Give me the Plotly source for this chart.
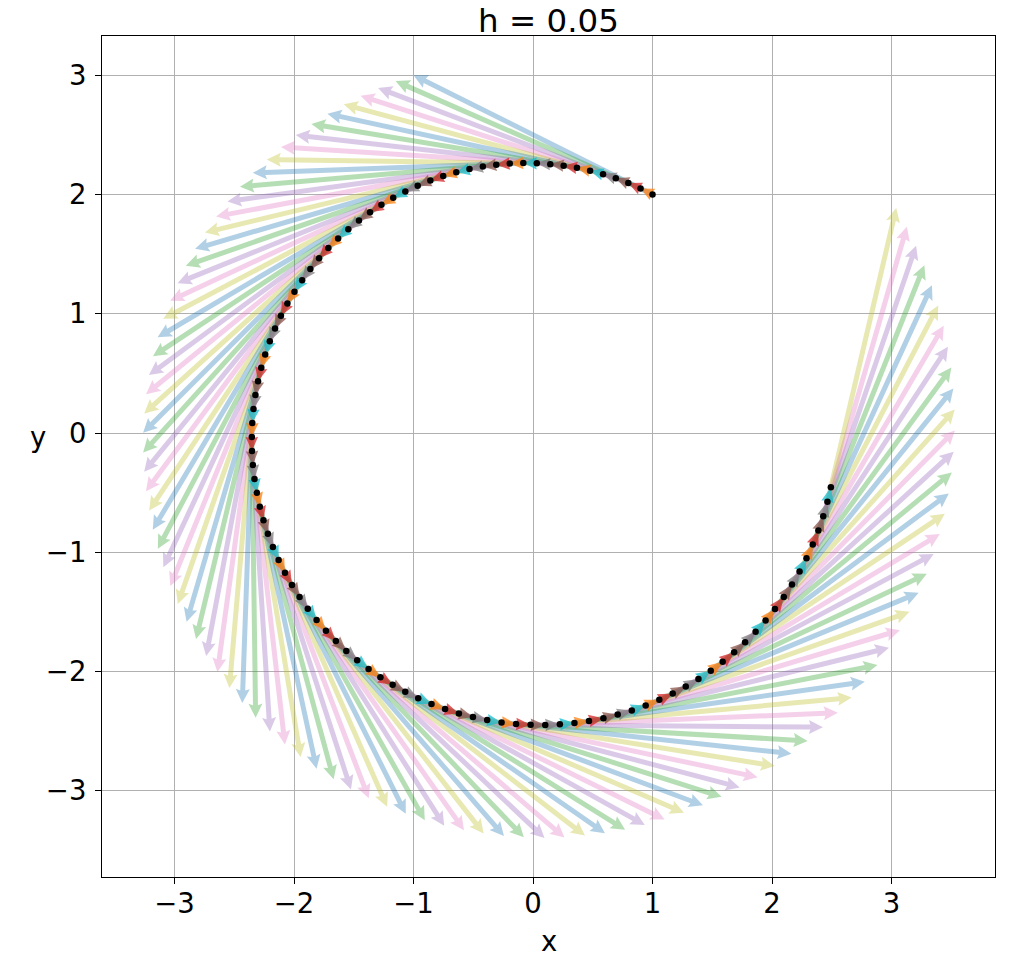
import math
import plotly.graph_objects as go

# ---------------- data ----------------
h = 0.05
title_text = "h = 0.05"

px_pts = [1.0, 0.9, 0.7975, 0.6928, 0.5860, 0.4775, 0.3676, 0.2565, 0.1444, 0.0317,
          -0.0813, -0.1945, -0.3074, -0.4199, -0.5315, -0.6422, -0.7515, -0.8592, -0.9650, -1.0686,
          -1.1699, -1.2685, -1.3641, -1.4566, -1.5457, -1.6311, -1.7127, -1.7902, -1.8634, -1.9322,
          -1.9962, -2.0555, -2.1097, -2.1589, -2.2027, -2.2412, -2.2741, -2.3014, -2.3231, -2.3390,
          -2.3491, -2.3533, -2.3517, -2.3442, -2.3308, -2.3115, -2.2865, -2.2556, -2.2190, -2.1768,
          -2.1290, -2.0758, -2.0173, -1.9536, -1.8848, -1.8112, -1.7328, -1.6500, -1.5627, -1.4714,
          -1.3761, -1.2772, -1.1748, -1.0693, -0.9608, -0.8496, -0.7360, -0.6203, -0.5028, -0.3837,
          -0.2634, -0.1421, -0.0201, 0.1022, 0.2246, 0.3467, 0.4682, 0.5889, 0.7084, 0.8265,
          0.9427, 1.0569, 1.1688, 1.2780, 1.3843, 1.4874, 1.5870, 1.6829, 1.7748, 1.8626,
          1.9459, 2.0245, 2.0983, 2.1670, 2.2305, 2.2885, 2.3410, 2.3877, 2.4286, 2.4636,
          2.4924]

py_pts = [2.0, 2.05, 2.095, 2.1349, 2.1695, 2.1988, 2.2227, 2.2411, 2.2539, 2.2611,
          2.2627, 2.2586, 2.2489, 2.2335, 2.2126, 2.1860, 2.1539, 2.1163, 2.0733, 2.0251,
          1.9717, 1.9132, 1.8497, 1.7815, 1.7087, 1.6314, 1.5499, 1.4642, 1.3747, 1.2815,
          1.1849, 1.0851, 0.9823, 0.8769, 0.7689, 0.6588, 0.5467, 0.4330, 0.3179, 0.2018,
          0.0848, -0.0326, -0.1503, -0.2679, -0.3851, -0.5016, -0.6172, -0.7315, -0.8443, -0.9552,
          -1.0641, -1.1705, -1.2743, -1.3752, -1.4729, -1.5671, -1.6577, -1.7443, -1.8268, -1.9050,
          -1.9785, -2.0473, -2.1112, -2.1699, -2.2234, -2.2714, -2.3139, -2.3507, -2.3817, -2.4069,
          -2.4261, -2.4392, -2.4463, -2.4473, -2.4422, -2.4310, -2.4137, -2.3903, -2.3608, -2.3254,
          -2.2841, -2.2369, -2.1841, -2.1256, -2.0617, -1.9925, -1.9182, -1.8388, -1.7547, -1.6659,
          -1.5728, -1.4755, -1.3743, -1.2694, -1.1610, -1.0495, -0.9351, -0.8180, -0.6986, -0.5772,
          -0.4540]

tick_vals = [-3, -2, -1, 0, 1, 2, 3]

tab10 = ["#1f77b4", "#ff7f0e", "#2ca02c", "#d62728", "#9467bd",
         "#8c564b", "#e377c2", "#7f7f7f", "#bcbd22", "#17becf"]

# ---------------- layout geometry ----------------
W, H = 1009, 962
M = dict(l=102, r=14, t=36, b=85)
X_RANGE = [-3.607, 3.866]
Y_RANGE = [-3.722, 3.328]
sx = (W - M["l"] - M["r"]) / (X_RANGE[1] - X_RANGE[0])   # px per data unit
sy = (H - M["t"] - M["b"]) / (Y_RANGE[1] - Y_RANGE[0])
plot_h = H - M["t"] - M["b"]


def rgba(hexc, a):
    hexc = hexc.lstrip("#")
    r, g, b = int(hexc[0:2], 16), int(hexc[2:4], 16), int(hexc[4:6], 16)
    return f"rgba({r},{g},{b},{a})"


def arrow_polygon(x0, y0, u, v, w, hw, hl, hal):
    """quiver-like arrow outline (sizes in px) converted to data coords"""
    dx, dy = u * sx, v * sy
    L = math.hypot(dx, dy)
    if L < hl:
        s = L / hl
        w, hw, hl, hal = w * s, hw * s, hl * s, hal * s
    loc = [(0, -w / 2), (L - hal, -w / 2), (L - hl, -hw / 2), (L, 0),
           (L - hl, hw / 2), (L - hal, w / 2), (0, w / 2), (0, -w / 2)]
    ex, ey = dx / L, dy / L
    nx, ny = -ey, ex
    xs = [x0 + (a * ex + b * nx) / sx for a, b in loc]
    ys = [y0 + (a * ey + b * ny) / sy for a, b in loc]
    return xs, ys


fig = go.Figure()

n_steps = len(px_pts) - 1
for k in range(n_steps):
    x0, y0 = px_pts[k], py_pts[k]
    # slope vector f(x_k) = (x_{k+1} - x_k) / h
    u = (px_pts[k + 1] - x0) / h
    v = (py_pts[k + 1] - y0) / h
    # long arrow: full slope vector
    xs, ys = arrow_polygon(x0, y0, u, v, w=5.0, hw=14.0, hl=14.0, hal=12.5)
    fig.add_trace(go.Scatter(x=xs, y=ys, mode="lines", fill="toself",
                             fillcolor=rgba(tab10[(2 * k) % 10], 0.35),
                             line=dict(width=0), hoverinfo="skip", showlegend=False))
    # short arrow: step h * slope
    L_px = math.hypot(h * u * sx, h * v * sy)
    xs, ys = arrow_polygon(x0, y0, h * u, h * v, w=3.5, hw=12.5, hl=L_px, hal=L_px * 0.92)
    fig.add_trace(go.Scatter(x=xs, y=ys, mode="lines", fill="toself",
                             fillcolor=rgba(tab10[(2 * k + 1) % 10], 0.75),
                             line=dict(width=0), hoverinfo="skip", showlegend=False))

fig.add_trace(go.Scatter(x=px_pts, y=py_pts, mode="markers",
                         marker=dict(color="black", size=6.5, line=dict(width=0)),
                         hoverinfo="skip", showlegend=False))

FONT = "DejaVu Sans, Liberation Sans, sans-serif"
axis_common = dict(
    tickmode="array", tickvals=tick_vals,
    showgrid=True, gridcolor="#b0b0b0", gridwidth=1.1,
    zeroline=False, showline=True, linecolor="black", linewidth=1.2, mirror=True,
    ticks="outside", ticklen=6, tickwidth=1.2, tickcolor="black",
    tickfont=dict(family=FONT, size=27.5, color="black"),
)

fig.update_layout(
    width=W, height=H, margin=M,
    paper_bgcolor="white", plot_bgcolor="white",
    xaxis=dict(range=X_RANGE, ticklabelstandoff=-4, **axis_common),
    yaxis=dict(range=Y_RANGE, ticklabelstandoff=3, **axis_common),
    annotations=[
        dict(text=title_text, x=0.5, y=(plot_h + M["t"]) / plot_h, xref="paper", yref="paper",
             showarrow=False, xanchor="center", yanchor="top",
             font=dict(family=FONT, size=32.5, color="black")),
        dict(text="x", x=0.5, y=(877 - 941) / 841, xref="paper", yref="paper",
             showarrow=False, xanchor="center", yanchor="middle",
             font=dict(family=FONT, size=27.5, color="black")),
        dict(text="y", x=(37.5 - 102) / 893, y=(877 - 437) / 841, xref="paper", yref="paper",
             showarrow=False, xanchor="center", yanchor="middle",
             font=dict(family=FONT, size=27.5, color="black")),
    ],
)

# remove the browser's default 8px body margin so the figure fills the window
fig.write_html("out.html",
               config={"displayModeBar": False},
               post_script="document.body.style.margin='0';document.body.style.padding='0';")
